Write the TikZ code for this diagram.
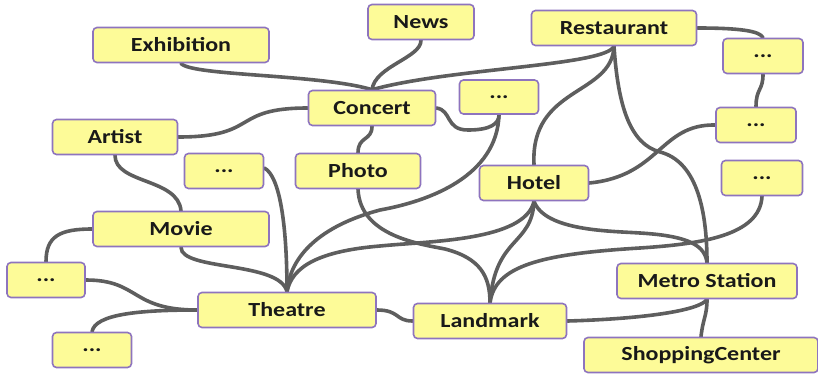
\documentclass[tikz,border=0pt]{standalone}
\usepackage{fontspec}
\setmainfont{Carlito}
\newfontfamily\boxfont{Carlito}[FakeStretch=1.2]
\usetikzlibrary{calc}
\pgfdeclarelayer{bg}
\pgfsetlayers{bg,main}
\definecolor{boxfill}{HTML}{FDFB98}
\definecolor{boxline}{HTML}{8E74BE}
\definecolor{linkc}{HTML}{5E5E5E}
\tikzset{
  box/.style={draw=boxline, line width=1.6pt, fill=boxfill, rounded corners=4pt,
    inner sep=0pt, minimum height=35pt, text=black!90,
    font=\boxfont\fontsize{20}{24}\selectfont\bfseries},
  link/.style={draw=linkc, line width=3.6pt, line cap=round}
}
\begin{document}
\begin{tikzpicture}[x=1pt,y=1pt]
\useasboundingbox (0,0) rectangle (818,376);
\node[box, minimum width=176pt] (exh) at (181,331) {Exhibition};
\node[box, minimum width=106pt] (news) at (421,354) {News};
\node[box, minimum width=165pt] (rest) at (614,348) {Restaurant};
\node[box, minimum width=80pt] (d1) at (763,320) {...};
\node[box, minimum width=127pt] (conc) at (372,268) {Concert};
\node[box, minimum width=79pt, minimum height=34pt] (dc) at (499,279) {...};
\node[box, minimum width=125pt] (art) at (115,239) {Artist};
\node[box, minimum width=80pt] (d2) at (756,251) {...};
\node[box, minimum width=79pt] (dl1) at (224,205) {...};
\node[box, minimum width=125pt] (photo) at (358,205) {Photo};
\node[box, minimum width=109pt] (hotel) at (534,193) {Hotel};
\node[box, minimum width=81pt] (d3) at (762,198) {...};
\node[box, minimum width=176pt] (movie) at (181,147) {Movie};
\node[box, minimum width=78pt] (dl2) at (46,96) {...};
\node[box, minimum width=180pt] (metro) at (707,95) {Metro Station};
\node[box, minimum width=178pt] (theatre) at (287,66) {Theatre};
\node[box, minimum width=153pt] (land) at (490,55) {Landmark};
\node[box, minimum width=79pt] (dl3) at (92,26) {...};
\node[box, minimum width=234pt] (shop) at (701,21) {ShoppingCenter};
\begin{pgfonlayer}{bg}
\path[link] (exh.south) .. controls (190,300) and (320,302) .. (conc.north);
\path[link] (news.south) .. controls (421,318) and (375,310) .. (conc.north);
\path[link] (rest.south) .. controls (605,310) and (450,308) .. (conc.north);
\path[link] (art.east) .. controls (260,239) and (230,268) .. (conc.west);
\path[link] (conc.east) .. controls (452,266) and (445,246) .. (468,246) .. controls (490,246) and (499,252) .. (dc.south);
\path[link] (conc.south) .. controls (372,235) and (358,240) .. (photo.north);
\path[link] (rest.east) .. controls (740,348) and (760,345) .. (d1.north);
\path[link] (d1.south) .. controls (763,285) and (756,288) .. (d2.north);
\path[link] (rest.south) .. controls (612,280) and (530,290) .. (hotel.north);
\path[link] (rest.south) .. controls (618,270) and (630,232) .. (660,224) .. controls (695,215) and (707,170) .. (metro.north);
\path[link] (d2.west) .. controls (660,252) and (660,200) .. (hotel.east);
\path[link] (art.south) .. controls (115,192) and (178,198) .. (movie.north);
\path[link] ($(dl1.east)+(0,3)$) .. controls (280,200) and (287,150) .. (theatre.north);
\path[link] (movie.south) .. controls (181,105) and (280,115) .. (theatre.north);
\path[link] (movie.west) .. controls (60,147) and (46,140) .. (dl2.north);
\path[link] (dl2.east) .. controls (140,96) and (130,66) .. (theatre.west);
\path[link] (dl3.north) .. controls (95,62) and (140,66) .. (theatre.west);
\path[link] (dc.south) .. controls (497,200) and (430,175) .. (380,166) .. controls (320,150) and (290,120) .. (theatre.north);
\path[link] (hotel.south) .. controls (525,135) and (430,135) .. (380,130) .. controls (320,125) and (292,110) .. (theatre.north);
\path[link] (photo.south) .. controls (360,140) and (420,132) .. (445,127) .. controls (480,118) and (490,100) .. (land.north);
\path[link] (hotel.south) .. controls (532,130) and (495,140) .. (land.north);
\path[link] (hotel.south) .. controls (545,145) and (610,145) .. (640,143) .. controls (690,140) and (705,130) .. (metro.north);
\path[link] (d3.south) .. controls (760,140) and (700,132) .. (640,128) .. controls (540,122) and (495,110) .. (land.north);
\path[link] (theatre.east) .. controls (400,66) and (395,55) .. (land.west);
\path[link] (land.east) .. controls (640,57) and (700,65) .. (metro.south);
\path[link] (metro.south) .. controls (707,60) and (703,58) .. (shop.north);
\end{pgfonlayer}
\end{tikzpicture}
\end{document}
